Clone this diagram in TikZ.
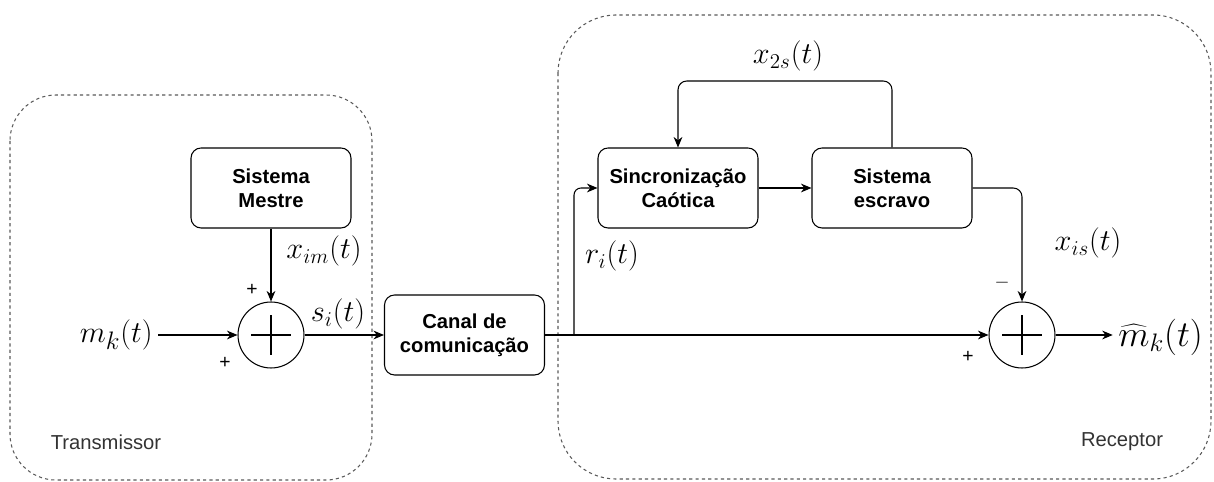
\documentclass[tikz,border=0pt]{standalone}
\usepackage[no-math]{fontspec}
\newfontfamily\arialf{Liberation Sans}
\usetikzlibrary{arrows.meta}
\begin{document}
\begin{tikzpicture}[x=0.02cm,y=-0.02cm,
  block/.style={draw, rounded corners=0.2cm, minimum width=3.2cm, minimum height=1.6cm,
    align=center, font=\arialf\bfseries\fontsize{11.5}{13.5}\selectfont, line width=0.6pt},
  sumnode/.style={draw, circle, minimum size=1.32cm, line width=0.6pt},
  container/.style={draw=black!65, dash pattern=on 1.8pt off 1.8pt, line width=0.6pt},
  arr/.style={-{Stealth[length=6pt,width=5pt]}, line width=0.6pt},
  ln/.style={line width=0.6pt},
  mlab/.style={font=\fontsize{17}{19}\selectfont, inner sep=0pt},
  biglab/.style={font=\fontsize{19}{21}\selectfont, inner sep=0pt},
  sgn/.style={font=\arialf\fontsize{11}{13}\selectfont, inner sep=0pt},
  clab/.style={font=\arialf\fontsize{11.5}{13.5}\selectfont, text=black!80, inner sep=0pt}
]
\useasboundingbox (0,0) rectangle (1214,482);
% containers
\draw[container, rounded corners=0.92cm] (10,95) rectangle (372,480);
\draw[container, rounded corners=1.16cm] (558,15) rectangle (1211,479);
\node[clab] (tx) at (106,442) {Transmissor};
\node[clab] (rx) at (1122,442) {Receptor};
% blocks
\node[block] (mestre) at (271,188) {Sistema\\Mestre};
\node[sumnode] (sum1) at (271,335) {};
\draw[ln] ([xshift=-0.4cm]sum1.center) -- ([xshift=0.4cm]sum1.center);
\draw[ln] ([yshift=-0.4cm]sum1.center) -- ([yshift=0.4cm]sum1.center);
\node[block] (canal) at (464.5,335) {Canal de\\comunica\c{c}\~ao};
\node[block] (sinc) at (678,188) {Sincroniza\c{c}\~ao\\Ca\'otica};
\node[block] (escravo) at (892,188) {Sistema\\escravo};
\node[sumnode] (sum2) at (1022,335) {};
\draw[ln] ([xshift=-0.4cm]sum2.center) -- ([xshift=0.4cm]sum2.center);
\draw[ln] ([yshift=-0.4cm]sum2.center) -- ([yshift=0.4cm]sum2.center);
% labels
\node[biglab, anchor=west, font=\fontsize{20}{22}\selectfont] (mhat) at (1118,337) {$\widehat{m}_k(t)$};
\node[biglab, anchor=east] (mk) at (153,335) {$m_k(t)$};
\node[mlab] (xim) at (324,251) {$x_{im}(t)$};
\node[mlab] (si) at (338,314) {$s_i(t)$};
\node[mlab] (ri) at (612,256) {$r_i(t)$};
\node[mlab] (x2s) at (788,56) {$x_{2s}(t)$};
\node[mlab] (xis) at (1088,243) {$x_{is}(t)$};
\node[sgn] (p1) at (252,290) {+};
\node[sgn] (p2) at (225,363) {+};
\node[sgn] (m3) at (1002,283) {$-$};
\node[sgn] (p4) at (968,357) {+};
% connectors
\draw[arr] ([xshift=3]mk.east) -- (sum1.west);
\draw[arr] (mestre.south) -- (sum1.north);
\draw[arr] (sum1.east) -- (canal.west);
\coordinate (br) at (574,335);
\draw[arr] (canal.east) -- (sum2.west);
\draw[arr] (sum2.east) -- ([xshift=-3]mhat.west |- sum2.east);
\draw[arr, rounded corners=4pt] (br) -- (br |- sinc.west) -- (sinc.west);
\draw[arr] (sinc.east) -- (escravo.west);
\draw[arr, rounded corners=5pt] (escravo.north) -- (892,81) -- (678,81) -- (sinc.north);
\draw[arr, rounded corners=5pt] (escravo.east) -- (sum2.north |- escravo.east) -- (sum2.north);
\end{tikzpicture}
\end{document}
